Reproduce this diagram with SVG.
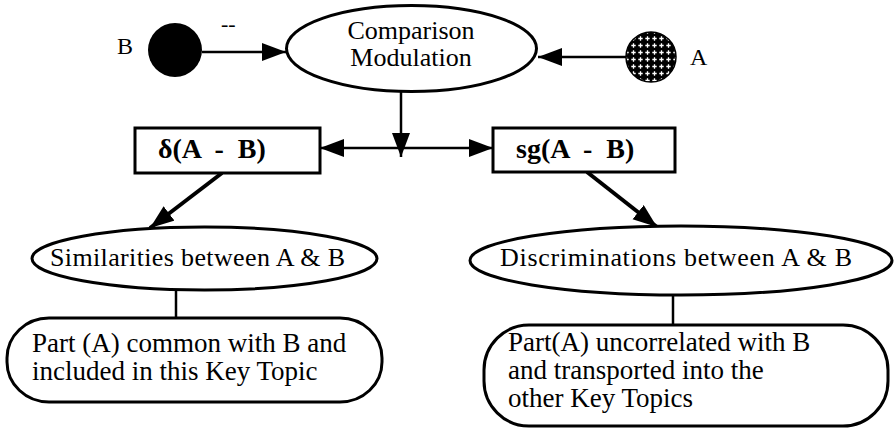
<svg xmlns="http://www.w3.org/2000/svg" width="894" height="428" viewBox="0 0 894 428" font-family="'Liberation Serif', 'Times New Roman', Times, 'DejaVu Serif', serif">
<style>
  text { font-family: "Liberation Serif", "Times New Roman", Times, "DejaVu Serif", serif; fill: #000; }
  .lbl { font-size: 26px; }
  .bold { font-size: 28px; font-weight: bold; }
  .shape { fill: #fff; stroke: #000; stroke-width: 3; }
  .thin { stroke: #000; stroke-width: 2.5; fill: none; }
  .thick { stroke: #000; stroke-width: 4; fill: none; }
</style>
<defs>
  <marker id="ah" markerUnits="userSpaceOnUse" markerWidth="26" markerHeight="20" refX="24" refY="9" orient="auto">
    <path d="M0,0 L24,9 L0,18 Z" fill="#000"/>
  </marker>
  <marker id="ahs" markerUnits="userSpaceOnUse" markerWidth="26" markerHeight="20" refX="24" refY="9" orient="auto-start-reverse">
    <path d="M0,0 L24,9 L0,18 Z" fill="#000"/>
  </marker>
  <pattern id="hatch" patternUnits="userSpaceOnUse" width="7" height="7">
    <rect width="7" height="7" fill="#000"/>
    <path d="M3.5,1.3 V5.7 M1.3,3.5 H5.7" stroke="#fff" stroke-width="1.3"/>
  </pattern>
</defs>

<g id="connectors">
  <line class="thin" x1="202" y1="52" x2="286" y2="52" marker-end="url(#ah)"/>
  <line class="thin" x1="626" y1="57" x2="538" y2="57" marker-end="url(#ah)"/>
  <line class="thin" x1="401" y1="92" x2="401" y2="157" marker-end="url(#ah)"/>
  <line class="thin" x1="320" y1="148" x2="493" y2="148" marker-start="url(#ahs)" marker-end="url(#ah)"/>
  <line class="thick" x1="222" y1="173" x2="150" y2="228" marker-end="url(#ah)"/>
  <line class="thick" x1="587" y1="172" x2="657" y2="227" marker-end="url(#ah)"/>
  <line class="thin" x1="176" y1="290" x2="176" y2="318"/>
  <line class="thin" x1="673" y1="295" x2="673" y2="325"/>
</g>

<g id="nodeB">
  <circle cx="175" cy="50" r="27" fill="#000"/>
  <text x="117" y="54" style="font-size:24px">B</text>
  <text x="221" y="31" style="font-size:22px">--</text>
</g>

<g id="nodeA">
  <circle cx="651" cy="57" r="25" fill="url(#hatch)" stroke="#000" stroke-width="1.5"/>
  <text x="690" y="65" style="font-size:24px">A</text>
</g>

<g id="comparison">
  <ellipse class="shape" cx="411.5" cy="48.5" rx="125" ry="43"/>
  <text class="lbl" x="411" y="39" text-anchor="middle">Comparison</text>
  <text class="lbl" x="411" y="66" text-anchor="middle">Modulation</text>
</g>

<g id="delta">
  <rect class="shape" x="135" y="128" width="185" height="45"/>
  <text class="bold" x="158" y="158" xml:space="preserve">δ(A  -  B)</text>
</g>

<g id="sg">
  <rect class="shape" x="493" y="128" width="182" height="44"/>
  <text class="bold" x="516" y="158" xml:space="preserve">sg(A  -  B)</text>
</g>

<g id="similarities">
  <ellipse class="shape" cx="204.5" cy="258.5" rx="172.5" ry="31.5"/>
  <text class="lbl" x="50" y="266" textLength="295">Similarities between A &amp; B</text>
</g>

<g id="discriminations">
  <ellipse class="shape" cx="681" cy="260.5" rx="211" ry="34.5"/>
  <text class="lbl" x="500" y="266" textLength="352">Discriminations between A &amp; B</text>
</g>

<g id="common">
  <rect class="shape" x="7" y="318" width="375" height="84" rx="42" ry="40"/>
  <text class="lbl" x="32" y="352" style="font-size:27px">Part (A) common with B and</text>
  <text class="lbl" x="32" y="380" style="font-size:27px">included in this Key Topic</text>
</g>

<g id="uncorrelated">
  <rect class="shape" x="484" y="325" width="404" height="101" rx="45" ry="45"/>
  <text class="lbl" x="508" y="351" style="font-size:27px">Part(A) uncorrelated with B</text>
  <text class="lbl" x="508" y="379" style="font-size:27px">and transported into the</text>
  <text class="lbl" x="508" y="407" style="font-size:27px">other Key Topics</text>
</g>
</svg>
